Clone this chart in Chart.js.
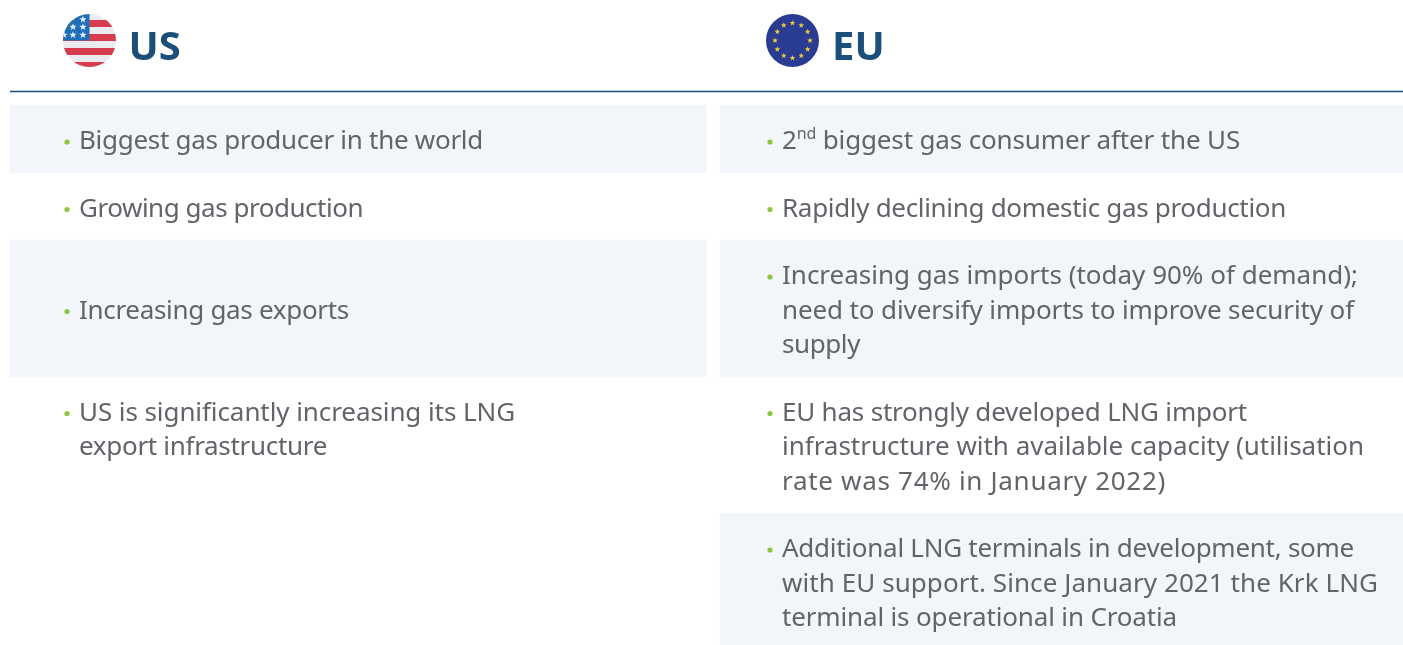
<!DOCTYPE html>
<html>
<head>
<meta charset="utf-8">
<title>US and EU gas markets</title>
<style>
  html, body { margin: 0; padding: 0; background: #fff; overflow: hidden; }
  canvas { display: block; }
</style>
<script src="https://cdn.jsdelivr.net/npm/chart.js@4"></script>
</head>
<body>
<canvas id="compareChart" width="1403" height="645"></canvas>
<script>
const columns = ['US', 'EU'];
// lines of text each table row has room for
const rowLines = [1, 1, 3, 3, 3];
const usRows = [
  ['Biggest gas producer in the world'],
  ['Growing gas production'],
  ['Increasing gas exports'],
  ['US is significantly increasing its LNG', 'export infrastructure'],
  []
];
const euRows = [
  ['2|nd| biggest gas consumer after the US'],
  ['Rapidly declining domestic gas production'],
  ['Increasing gas imports (today 90% of demand);', 'need to diversify imports to improve security of', 'supply'],
  ['EU has strongly developed LNG import', 'infrastructure with available capacity (utilisation', 'rate was 74% in January 2022)'],
  ['Additional LNG terminals in development, some', 'with EU support. Since January 2021 the Krk LNG', 'terminal is operational in Croatia']
];
// how wide each line runs in the original, the font here is not the same one
const usFit = [[404], [284], [270], [436, 248], []];
const euFit = [[458], [504], [576, 572, 78], [465, 582, 384], [572, 596, 395]];

const LINE = 34.5;
const TABLE_TOP = 105;
const BAND = '#f2f5fa';
const INK = '#616469';
const NAVY = '#1b4f7a';
const FONT = '"Noto Sans"';
const cols = [
  { left: 10, right: 706, bullet: 67, text: 79, rows: usRows, fit: usFit },
  { left: 720, right: 1403, bullet: 770, text: 782, rows: euRows, fit: euFit }
];

function rowHeight(lines) { return 33 + lines * LINE; }
const rowTops = [];
rowLines.reduce((top, n, i) => { rowTops[i] = top; return top + rowHeight(n); }, TABLE_TOP);

const datasets = [];
cols.forEach(col => {
  rowLines.forEach((n, i) => {
    if (i % 2 || !col.rows[i].length) return;
    const h = rowHeight(n);
    datasets.push({
      type: 'bar',
      data: [{ x: [col.left, col.right], y: rowTops[i] + h / 2 }],
      backgroundColor: BAND,
      barThickness: h,
      grouped: false
    });
  });
});
// rule under the headers
datasets.push({
  type: 'line',
  data: [{ x: 10, y: 91.5 }, { x: 1403, y: 91.5 }],
  borderColor: NAVY,
  borderWidth: 1.3,
  pointRadius: 0
});

function star(ctx, cx, cy, r, color) {
  ctx.beginPath();
  for (let i = 0; i < 10; i++) {
    const a = -Math.PI / 2 + i * Math.PI / 5;
    const rr = i % 2 ? r * 0.42 : r;
    ctx.lineTo(cx + Math.cos(a) * rr, cy + Math.sin(a) * rr);
  }
  ctx.closePath();
  ctx.fillStyle = color;
  ctx.fill();
}

function drawUsFlag(ctx, cx, cy, r) {
  ctx.save();
  ctx.beginPath();
  ctx.arc(cx, cy, r, 0, Math.PI * 2);
  ctx.clip();
  ctx.fillStyle = '#eaeaef';
  ctx.fillRect(cx - r, cy - r, r * 2, r * 2);
  ctx.fillStyle = '#d63c4e';
  [20, 34, 48, 62].forEach(y => ctx.fillRect(cx - r, y, r * 2, 7));
  ctx.fillStyle = '#1f6fb8';
  ctx.fillRect(cx - r, cy - r, r, r);
  [[83, 19.5], [73, 27], [83, 27], [64, 35], [73, 35], [83, 35]].forEach(p => star(ctx, p[0], p[1], 3.8, '#e6eff8'));
  ctx.restore();
}

function drawEuFlag(ctx, cx, cy, r) {
  ctx.beginPath();
  ctx.arc(cx, cy, r, 0, Math.PI * 2);
  ctx.fillStyle = '#2a3b92';
  ctx.fill();
  for (let i = 0; i < 12; i++) {
    const a = i * Math.PI / 6;
    star(ctx, cx + Math.sin(a) * 17.5, cy - Math.cos(a) * 17.5, 3, '#eccb3a');
  }
}

function drawLine(ctx, line, x, y, fit) {
  const parts = line.split('|');
  const fontOf = i => ((parts.length > 1 && i === 1) ? '16px ' : '26px ') + FONT;
  ctx.letterSpacing = '0px';
  let natural = 0;
  parts.forEach((part, i) => {
    ctx.font = fontOf(i);
    natural += ctx.measureText(part).width;
  });
  const spacing = (fit - natural) / line.replace(/\|/g, '').length;
  ctx.letterSpacing = spacing.toFixed(3) + 'px';
  parts.forEach((part, i) => {
    ctx.font = fontOf(i);
    ctx.fillText(part, x, (parts.length > 1 && i === 1) ? y - 10 : y);
    x += ctx.measureText(part).width;
  });
  ctx.letterSpacing = '0px';
}

const tablePlugin = {
  id: 'tableText',
  afterDatasetsDraw(chart) {
    const ctx = chart.ctx;
    ctx.save();
    ctx.textBaseline = 'alphabetic';
    ctx.textAlign = 'left';

    drawUsFlag(ctx, 89.5, 40.5, 26.5);
    drawEuFlag(ctx, 792.5, 40.5, 26.5);
    ctx.fillStyle = NAVY;
    ctx.font = 'bold 40px ' + FONT;
    ctx.fillText(columns[0], 128.5, 60);
    ctx.fillText(columns[1], 832, 60);

    cols.forEach(col => {
      col.rows.forEach((lines, i) => {
        if (!lines.length) return;
        const first = rowTops[i] + 44.4 + (rowLines[i] - lines.length > 1 && lines.length === 1 ? LINE : 0);
        ctx.beginPath();
        ctx.arc(col.bullet, first - 7.4, 2.6, 0, Math.PI * 2);
        ctx.fillStyle = '#8cc63f';
        ctx.fill();
        ctx.fillStyle = INK;
        lines.forEach((line, k) => drawLine(ctx, line, col.text, first + k * LINE, col.fit[i][k]));
      });
    });
    ctx.restore();
  }
};

new Chart(document.getElementById('compareChart'), {
  type: 'bar',
  data: { datasets: datasets },
  options: {
    indexAxis: 'y',
    responsive: false,
    animation: false,
    layout: { padding: 0 },
    plugins: { legend: { display: false }, tooltip: { enabled: false } },
    scales: {
      x: { type: 'linear', min: 0, max: 1403, display: false },
      y: { type: 'linear', min: 0, max: 645, reverse: true, offset: false, display: false }
    }
  },
  plugins: [tablePlugin]
});
</script>
</body>
</html>
